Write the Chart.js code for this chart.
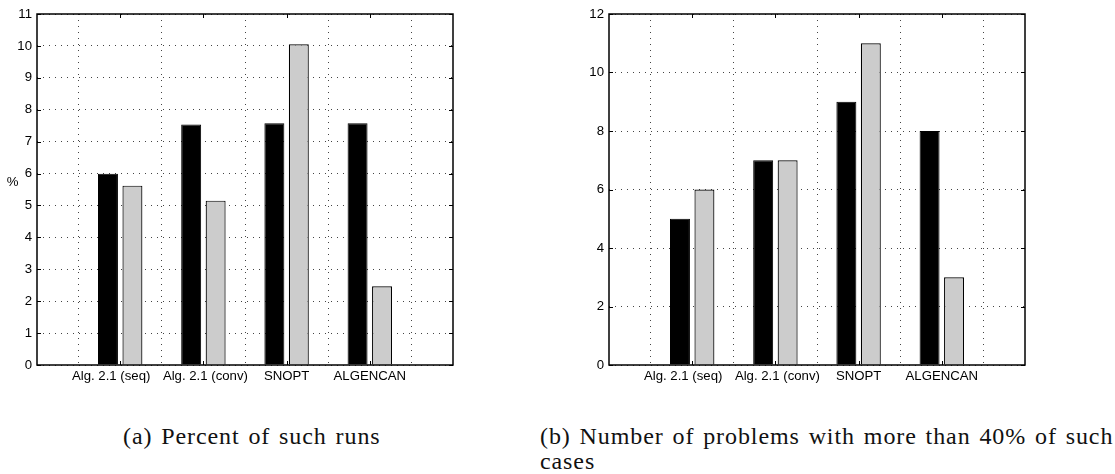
<!DOCTYPE html>
<html>
<head>
<meta charset="utf-8">
<script src="https://cdn.jsdelivr.net/npm/chart.js@4.4.0/dist/chart.umd.min.js"></script>
<style>
body { margin: 0; background: #fff; width: 1115px; height: 474px; position: relative; overflow: hidden; }
.box { position: absolute; top: 0; width: 480px; height: 400px; }
.cap { position: absolute; font-family: 'Liberation Serif', serif; font-size: 24px; line-height: 25px; color: #111; letter-spacing: 0.9px; word-spacing: 2px; white-space: nowrap; }
</style>
</head>
<body>
<div class="box" style="left:0"><canvas id="chartA"></canvas></div>
<div class="box" style="left:572px"><canvas id="chartB"></canvas></div>
<div class="cap" style="left:123px; top:424px">(a) Percent of such runs</div>
<div class="cap" style="left:540px; top:424px">(b) Number of problems with more than 40% of such<br>cases</div>
<script>
const categories = ['Alg. 2.1 (seq)', 'Alg. 2.1 (conv)', 'SNOPT', 'ALGENCAN'];

// (a) percent of such runs
const percentBlack = [5.99, 7.54, 7.58, 7.58];
const percentGray = [5.62, 5.15, 10.05, 2.47];

// (b) number of problems
const countBlack = [5, 7, 9, 8];
const countGray = [6, 7, 11, 3];

const fontFamily = "'Liberation Sans', Arial, sans-serif";
const tickFont = { family: fontFamily, size: 13.2 };
// matlab nudged the first two labels apart a bit
const labelShift = [0, -9, 2, 0, 0, 0];

// empty slot on each side, like the matlab x range 0..5
const padded = arr => [null, ...arr, null];

const framePlugin = {
    id: 'frame',
    afterDatasetsDraw(chart, args, opts) {
        const { ctx, chartArea: a, scales } = chart;
        ctx.save();
        ctx.strokeStyle = '#000';
        ctx.lineWidth = 1;
        ctx.beginPath();
        scales.y.ticks.forEach(t => {
            const y = Math.round(scales.y.getPixelForValue(t.value)) + 0.5;
            ctx.moveTo(a.left, y); ctx.lineTo(a.left + 4, y);
            ctx.moveTo(a.right, y); ctx.lineTo(a.right - 4, y);
        });
        scales.x.ticks.forEach((t, i) => {
            if (!scales.x.getLabelForValue(t.value)) return;
            const x = Math.round(scales.x.getPixelForTick(i)) + 0.5;
            ctx.moveTo(x, a.bottom); ctx.lineTo(x, a.bottom - 4);
            ctx.moveTo(x, a.top); ctx.lineTo(x, a.top + 4);
        });
        ctx.stroke();
        ctx.lineWidth = 1.5;
        ctx.strokeRect(a.left, a.top, a.right - a.left, a.bottom - a.top);

        // category labels
        ctx.fillStyle = '#000';
        ctx.font = tickFont.size + 'px ' + fontFamily;
        ctx.textAlign = 'center';
        ctx.textBaseline = 'top';
        scales.x.ticks.forEach((t, i) => {
            const label = scales.x.getLabelForValue(t.value);
            if (!label) return;
            ctx.fillText(label, scales.x.getPixelForTick(i) + labelShift[i], a.bottom + 5);
        });

        if (opts.unit) {
            ctx.textBaseline = 'middle';
            ctx.fillText(opts.unit, 12.5, (a.top + a.bottom) / 2 - 7);
        }
        ctx.restore();
    }
};

function makeChart(id, black, gray, yMax, yStep, unit) {
    return new Chart(document.getElementById(id), {
        type: 'bar',
        data: {
            labels: ['', ...categories, ''],
            datasets: [{
                data: padded(black),
                backgroundColor: '#000',
                borderColor: '#000',
                borderWidth: 1
            }, {
                data: padded(gray),
                backgroundColor: '#cccccc',
                borderColor: '#000',
                borderWidth: 1.2
            }]
        },
        options: {
            responsive: true,
            maintainAspectRatio: false,
            animation: false,
            layout: { padding: { top: 14, right: 27, left: 0, bottom: 0 } },
            datasets: { bar: { categoryPercentage: 0.588, barPercentage: 0.816 } },
            scales: {
                x: {
                    offset: false,
                    grid: { color: '#444', lineWidth: 1, drawTicks: false },
                    border: { display: false, dash: [1, 5] },
                    ticks: { display: false, autoSkip: false },
                    afterFit(s) { s.height = 35; }
                },
                y: {
                    min: 0,
                    max: yMax,
                    grid: { color: '#444', lineWidth: 1, drawTicks: false },
                    border: { display: false, dash: [1, 5] },
                    ticks: { stepSize: yStep, color: '#000', font: tickFont, padding: 5 },
                    afterFit(s) { s.width = 37; }
                }
            },
            plugins: {
                legend: { display: false },
                tooltip: { enabled: false },
                frame: { unit: unit }
            }
        },
        plugins: [framePlugin]
    });
}

makeChart('chartA', percentBlack, percentGray, 11, 1, '%');
makeChart('chartB', countBlack, countGray, 12, 2, '');
</script>
</body>
</html>
